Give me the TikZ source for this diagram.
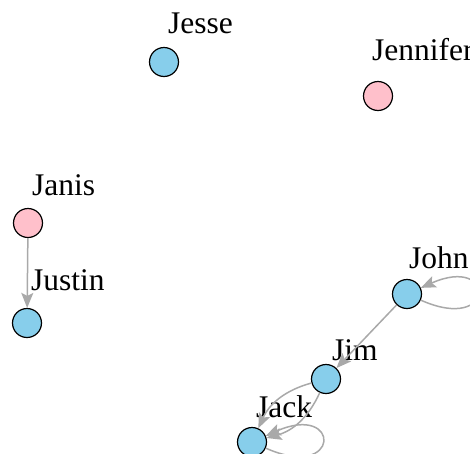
\documentclass[tikz,border=0pt]{standalone}
\usepackage{fontspec}
\setmainfont{Liberation Serif}
\usetikzlibrary{arrows.meta}
\definecolor{vblue}{HTML}{87CEEB}
\definecolor{vpink}{HTML}{FFC0CB}
\definecolor{egray}{HTML}{A9A9A9}
\begin{document}
\begin{tikzpicture}[x=1pt, y=-1pt,
  vertex/.style={circle, draw=black, line width=1.2pt, minimum size=29pt, inner sep=0pt},
  vlabel/.style={anchor=base west, inner sep=0pt, font={\fontsize{31.5}{38}\selectfont}},
  edge/.style={draw=egray, line width=1.5pt, -{Stealth[length=15pt, width=12pt, inset=3pt]}}]
  \useasboundingbox (0,0) rectangle (470,453);
  % vertices
  \foreach \v/\x/\y/\c in {Jesse/164/62/vblue, Jennifer/378/96/vpink, Janis/28/223/vpink, Justin/27/323/vblue, John/407/294/vblue, Jim/326/379/vblue, Jack/252/442/vblue} {
    \node[vertex, fill=\c] (\v) at (\x,\y) {};
  }
  % vertex labels
  \foreach \v/\x/\y in {Jesse/168/33, Jennifer/372/60, Janis/32/195, Justin/31/290, John/409/268, Jim/332/360, Jack/256/417} {
    \node[vlabel] (\v-lab) at (\x,\y) {\v};
  }
  % edges
  \draw[edge] (Janis) -- (Justin);
  \draw[edge] (John) -- (Jim);
  \draw[edge] (Jim) to[bend left=25] (Jack);
  \draw[edge] (Jim) to[bend right=25] (Jack);
  % loops
  \draw[edge] (John) .. controls +(24:98) and +(-24:98) .. (John);
  \draw[edge] (Jack) .. controls +(24:98) and +(-24:98) .. (Jack);
\end{tikzpicture}
\end{document}
